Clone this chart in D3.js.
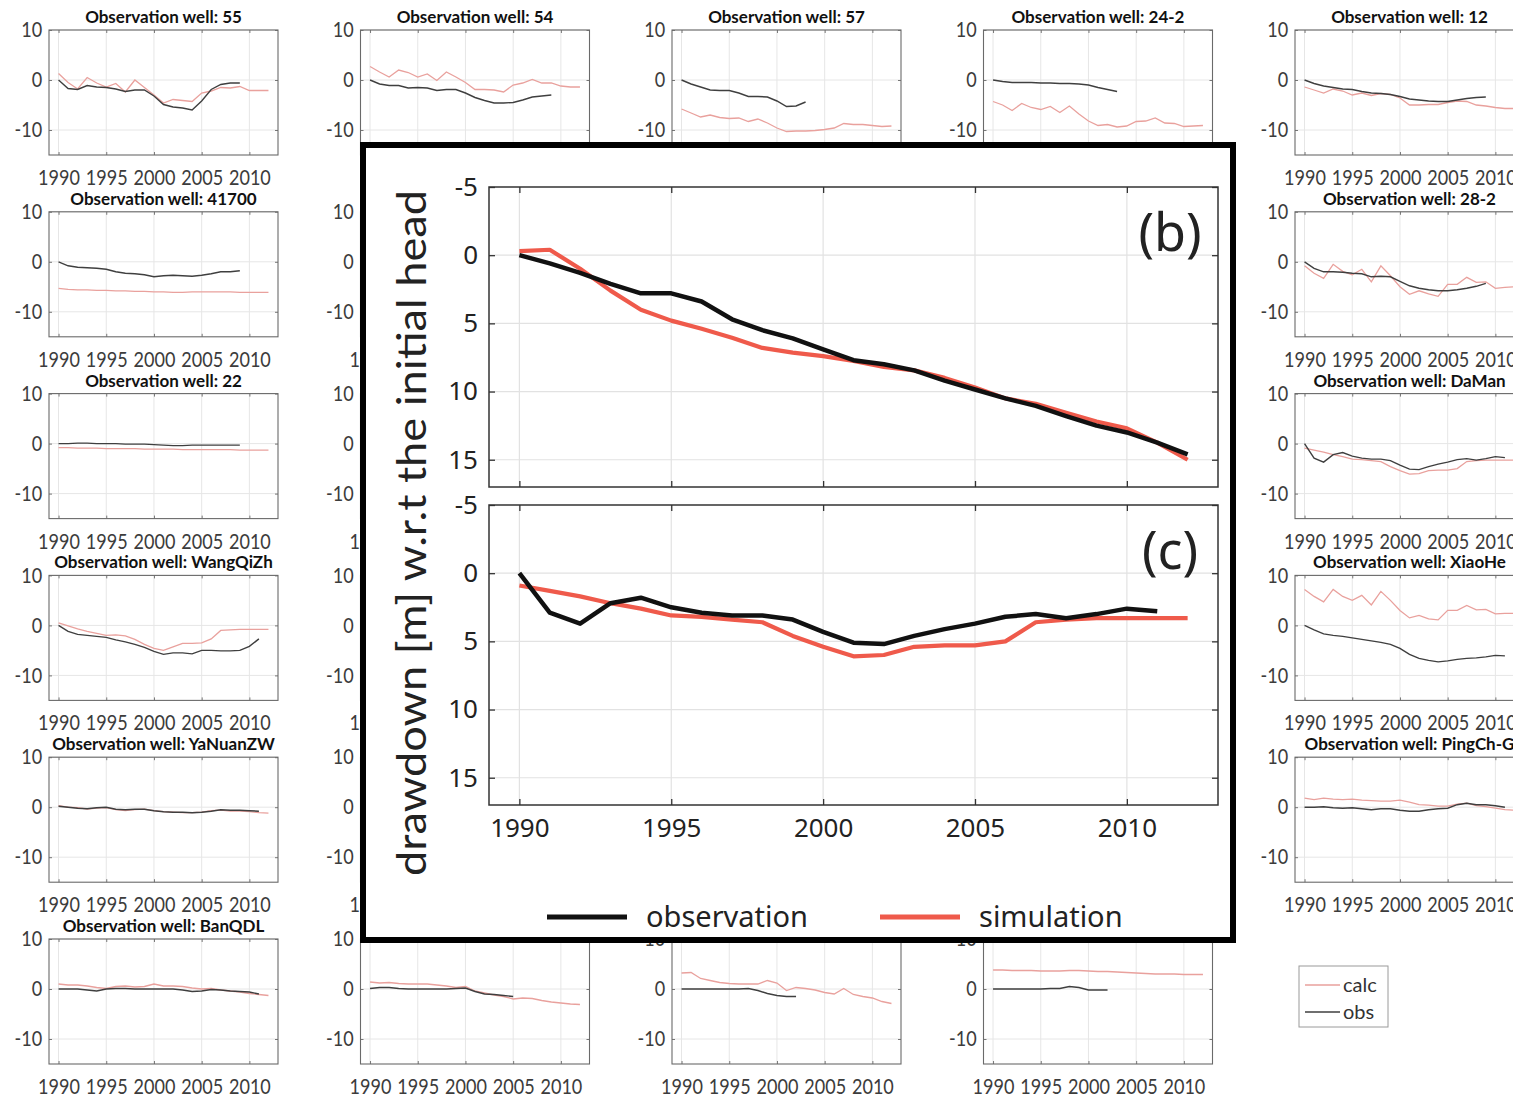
<!DOCTYPE html>
<html><head><meta charset="utf-8">
<script src="https://cdn.jsdelivr.net/npm/d3@7"></script>
<style>body{margin:0;background:#fff} svg{display:block}</style>
</head><body>
<svg id="chart" width="1513" height="1100"></svg>
<script>
// ---------- data ----------
const years = [1990,1991,1992,1993,1994,1995,1996,1997,1998,1999,2000,2001,2002,2003,2004,2005,2006,2007,2008,2009,2010,2011,2012];
const xTicks = [1990,1995,2000,2005,2010];
const yTicksSmall = [-10,0,10];
const yTicksInset = [-5,0,5,10,15];

const obs55 = [0,-1.7,-1.9,-1.1,-1.4,-1.5,-1.8,-2.3,-2.0,-2.0,-3.2,-4.9,-5.4,-5.6,-6.0,-4.2,-1.9,-0.9,-0.6,-0.6];
const calc55 = [1.3,-0.5,-1.8,0.5,-0.6,-1.4,-0.7,-2.4,0.0,-1.5,-3.0,-4.6,-3.9,-4.1,-4.3,-2.6,-2.2,-1.5,-1.6,-1.3,-2.1,-2.1,-2.1];
const obs54 = [0,-0.8,-1.1,-1.1,-1.6,-1.5,-1.6,-2.1,-1.9,-1.9,-2.6,-3.5,-4.1,-4.6,-4.6,-4.5,-4.0,-3.4,-3.2,-3.0];
const calc54 = [2.7,1.6,0.6,2.0,1.5,0.6,1.2,-0.1,1.6,0.6,-0.5,-1.9,-1.9,-2.0,-2.4,-1.0,-0.6,0.1,-0.6,-0.6,-1.2,-1.4,-1.4];
const obs57 = [0,-0.8,-1.4,-2.0,-2.1,-2.1,-2.6,-3.3,-3.3,-3.4,-4.2,-5.3,-5.2,-4.4];
const calc57 = [-5.8,-6.6,-7.4,-7.0,-7.5,-7.7,-7.6,-8.3,-7.8,-8.6,-9.6,-10.3,-10.2,-10.2,-10.1,-9.9,-9.6,-8.7,-8.9,-8.9,-9.1,-9.3,-9.2];
const obs24_2 = [0,-0.3,-0.5,-0.5,-0.5,-0.6,-0.6,-0.7,-0.7,-0.8,-1.0,-1.5,-1.9,-2.3];
const calc24_2 = [-4.3,-5.0,-6.1,-4.7,-5.5,-5.9,-5.3,-6.5,-5.2,-6.8,-8.2,-9.1,-8.9,-9.4,-9.2,-8.3,-8.2,-7.6,-8.6,-8.7,-9.3,-9.2,-9.1];
const obs12 = [0,-0.7,-1.2,-1.5,-1.8,-1.9,-2.3,-2.6,-2.7,-2.9,-3.3,-3.8,-4.0,-4.2,-4.3,-4.3,-4.0,-3.7,-3.5,-3.4];
const calc12 = [-1.4,-2.0,-2.6,-1.8,-2.2,-3.0,-2.6,-3.1,-2.7,-2.9,-3.6,-5.0,-5.0,-4.9,-4.9,-4.5,-4.2,-4.3,-5.0,-5.2,-5.5,-5.7,-5.7];
const obs41700 = [0,-0.8,-1.1,-1.2,-1.3,-1.5,-2.0,-2.3,-2.4,-2.6,-3.0,-2.8,-2.7,-2.8,-2.9,-2.7,-2.4,-2.0,-2.0,-1.8];
const calc41700 = [-5.3,-5.5,-5.6,-5.6,-5.7,-5.7,-5.8,-5.8,-5.9,-5.9,-6.0,-6.0,-6.1,-6.1,-6.0,-6.0,-6.0,-6.0,-6.0,-6.1,-6.1,-6.1,-6.1];
const obs28_2 = [0,-1.3,-2.0,-2.0,-2.1,-2.3,-2.4,-3.0,-2.9,-3.0,-3.9,-4.8,-5.3,-5.6,-5.8,-5.8,-5.6,-5.3,-4.9,-4.3];
const calc28_2 = [-0.8,-2.3,-3.3,-0.5,-1.9,-2.6,-1.5,-4.0,-0.8,-2.8,-5.0,-6.5,-5.8,-6.4,-6.9,-4.5,-4.5,-3.1,-4.1,-4.0,-5.3,-5.1,-5.0];
const obs22 = [0,0,0.1,0.1,0,0,0,-0.1,-0.1,-0.1,-0.2,-0.3,-0.4,-0.4,-0.3,-0.3,-0.3,-0.3,-0.3,-0.3];
const calc22 = [-0.8,-0.8,-0.9,-0.9,-0.9,-1.0,-1.0,-1.0,-1.0,-1.1,-1.1,-1.1,-1.1,-1.2,-1.2,-1.2,-1.2,-1.2,-1.2,-1.3,-1.3,-1.3,-1.3];
const obsDaMan = [0,-2.9,-3.7,-2.2,-1.8,-2.5,-2.9,-3.1,-3.1,-3.4,-4.3,-5.1,-5.2,-4.6,-4.1,-3.7,-3.2,-3.0,-3.3,-3.0,-2.6,-2.8];
const calcDaMan = [-0.9,-1.3,-1.7,-2.2,-2.6,-3.1,-3.2,-3.4,-3.6,-4.6,-5.4,-6.1,-6.0,-5.4,-5.3,-5.3,-5.0,-3.6,-3.4,-3.3,-3.3,-3.3,-3.3];
const obsWangQiZh = [0,-1.2,-1.8,-2.0,-2.2,-2.4,-2.9,-3.3,-3.8,-4.4,-5.2,-5.8,-5.5,-5.5,-5.7,-5.0,-5.0,-5.1,-5.1,-5.0,-4.2,-2.7];
const calcWangQiZh = [0.5,-0.1,-0.7,-1.2,-1.6,-2.0,-1.9,-2.1,-2.8,-3.8,-4.6,-5.0,-4.3,-3.6,-3.6,-3.5,-2.7,-1.0,-0.9,-0.8,-0.8,-0.8,-0.8];
const obsXiaoHe = [0,-0.9,-1.7,-2.0,-2.2,-2.5,-2.8,-3.1,-3.4,-3.8,-4.6,-5.8,-6.6,-7.0,-7.3,-7.1,-6.8,-6.6,-6.5,-6.3,-6.0,-6.1];
const calcXiaoHe = [7.2,5.8,4.7,7.2,5.8,5.0,6.0,4.1,6.8,5.0,3.0,1.5,2.0,1.3,1.1,3.0,3.0,4.0,3.1,3.2,2.3,2.4,2.4];
const obsYaNuanZW = [0.2,0.0,-0.2,-0.3,-0.1,0.0,-0.4,-0.5,-0.4,-0.4,-0.7,-0.9,-1.0,-1.0,-1.1,-1.0,-0.8,-0.5,-0.6,-0.6,-0.7,-0.8];
const calcYaNuanZW = [0.3,0.0,-0.1,-0.4,-0.2,-0.1,-0.5,-0.7,-0.5,-0.4,-0.7,-0.9,-1.0,-1.1,-1.1,-1.0,-0.7,-0.6,-0.8,-0.8,-0.9,-1.1,-1.2];
const obsPingCh = [0,0,0.1,-0.1,-0.2,-0.1,-0.3,-0.5,-0.3,-0.3,-0.6,-0.8,-0.8,-0.5,-0.3,-0.2,0.5,0.8,0.5,0.5,0.3,0.0];
const calcPingCh = [1.8,1.5,1.8,1.6,1.5,1.6,1.4,1.3,1.2,1.2,1.4,1.0,0.5,0.4,0.2,0.2,0.6,0.8,0.3,0.1,-0.2,-0.5,-0.6];
const obsBanQDL = [0,0,0,-0.2,-0.4,0,0.1,0.1,0,0,0,0,0,-0.2,-0.5,-0.4,-0.1,-0.2,-0.4,-0.5,-0.6,-1.0];
const calcBanQDL = [1.0,0.8,0.8,0.6,0.3,0.1,0.5,0.6,0.4,0.5,1.0,0.6,0.6,0.5,0.2,0.0,0.1,-0.2,-0.4,-0.6,-0.9,-1.1,-1.3];
const obsBottom2 = [0.1,0.3,0.3,0.1,0,0,0,0,0,0.1,0.2,-0.5,-1.0,-1.1,-1.3,-1.5];
const calcBottom2 = [1.4,1.2,1.3,1.1,1.0,1.0,1.0,0.8,0.6,0.3,0.5,-0.4,-0.8,-1.2,-1.5,-2.0,-1.8,-1.9,-2.3,-2.6,-2.8,-3.0,-3.1];
const obsBottom3 = [0,0,0,0,0,0,0,0.1,-0.3,-0.9,-1.3,-1.5,-1.5];
const calcBottom3 = [3.2,3.3,2.1,1.7,1.3,1.1,1.0,1.0,1.0,1.7,1.2,-0.3,0.3,0.1,-0.2,-0.7,-1.0,0.1,-1.1,-1.5,-1.8,-2.5,-2.9];
const obsBottom4 = [0,0,0,0,0,0,0.1,0.1,0.5,0.3,-0.2,-0.2,-0.2];
const calcBottom4 = [3.8,3.8,3.7,3.7,3.7,3.6,3.6,3.6,3.7,3.7,3.6,3.5,3.5,3.4,3.3,3.2,3.1,3.0,3.0,3.0,2.9,2.9,2.9];

// inset (b) and (c): drawdown w.r.t. initial head
const insetBObs = [0,0.6,1.3,2.1,2.8,2.8,3.4,4.7,5.5,6.1,6.9,7.7,8.0,8.45,9.2,9.85,10.5,11.05,11.8,12.5,13.0,13.75,14.6];
const insetBSim = [-0.3,-0.4,1.0,2.6,4.0,4.8,5.4,6.05,6.8,7.15,7.4,7.75,8.2,8.45,9.0,9.7,10.5,10.9,11.55,12.2,12.7,13.75,15.0];
const insetCObs = [0,2.9,3.7,2.2,1.8,2.5,2.9,3.1,3.1,3.4,4.3,5.1,5.2,4.6,4.1,3.7,3.2,3.0,3.3,3.0,2.6,2.8];
const insetCSim = [0.9,1.3,1.7,2.2,2.6,3.1,3.2,3.4,3.6,4.6,5.4,6.1,6.0,5.4,5.3,5.3,5.0,3.6,3.4,3.3,3.3,3.3,3.3];

// panels: the ones lying completely under the inset are not drawn
const panels = [
  {r:0,c:0,title:"Observation well: 55",obs:obs55,calc:calc55},
  {r:0,c:1,title:"Observation well: 54",obs:obs54,calc:calc54,xLabels:[]},
  {r:0,c:2,title:"Observation well: 57",obs:obs57,calc:calc57,xLabels:[]},
  {r:0,c:3,title:"Observation well: 24-2",obs:obs24_2,calc:calc24_2,xLabels:[]},
  {r:0,c:4,title:"Observation well: 12",obs:obs12,calc:calc12},
  {r:1,c:0,title:"Observation well: 41700",obs:obs41700,calc:calc41700},
  {r:1,c:1,title:"",obs:[],calc:[],xLabels:[1990]},
  {r:1,c:4,title:"Observation well: 28-2",obs:obs28_2,calc:calc28_2},
  {r:2,c:0,title:"Observation well: 22",obs:obs22,calc:calc22},
  {r:2,c:1,title:"",obs:[],calc:[],xLabels:[1990]},
  {r:2,c:4,title:"Observation well: DaMan",obs:obsDaMan,calc:calcDaMan},
  {r:3,c:0,title:"Observation well: WangQiZh",obs:obsWangQiZh,calc:calcWangQiZh},
  {r:3,c:1,title:"",obs:[],calc:[],xLabels:[1990]},
  {r:3,c:4,title:"Observation well: XiaoHe",obs:obsXiaoHe,calc:calcXiaoHe},
  {r:4,c:0,title:"Observation well: YaNuanZW",obs:obsYaNuanZW,calc:calcYaNuanZW},
  {r:4,c:1,title:"",obs:[],calc:[],xLabels:[1990]},
  {r:4,c:4,title:"Observation well: PingCh-G",obs:obsPingCh,calc:calcPingCh},
  {r:5,c:0,title:"Observation well: BanQDL",obs:obsBanQDL,calc:calcBanQDL},
  {r:5,c:1,title:"",obs:obsBottom2,calc:calcBottom2},
  {r:5,c:2,title:"",obs:obsBottom3,calc:calcBottom3},
  {r:5,c:3,title:"",obs:obsBottom4,calc:calcBottom4}
];

// ---------- layout ----------
const svg = d3.select("#chart");
const PW = 229, PH = 125;
const colX = c => 49 + c*311.5;
const rowY = r => 30 + r*181.8;
const smallFont = "Lato, 'Noto Sans', sans-serif";
const insetFont = "'Noto Sans', 'Open Sans', sans-serif";
const calcColor = "#e9a19d", obsColor = "#3f3f3f";

function smallPanel(p) {
  const g = svg.append("g").attr("transform", `translate(${colX(p.c)},${rowY(p.r)})`);
  const x = d3.scaleLinear().domain([1989, 2013]).range([0, PW]);
  const y = d3.scaleLinear().domain([-15, 10]).range([PH, 0]);
  const labelled = p.xLabels || xTicks;
  g.append("g").selectAll("line").data(xTicks).join("line")
    .attr("x1", d => x(d)).attr("x2", d => x(d)).attr("y1", 0).attr("y2", PH)
    .attr("stroke", "#e6e6e6").attr("stroke-width", 1);
  g.append("g").selectAll("line").data(yTicksSmall).join("line")
    .attr("x1", 0).attr("x2", PW).attr("y1", d => y(d)).attr("y2", d => y(d))
    .attr("stroke", "#e6e6e6").attr("stroke-width", 1);
  const styleAxis = sel => {
    sel.select(".domain").remove();
    sel.selectAll(".tick line").attr("stroke", "#777");
    sel.selectAll(".tick text").attr("fill", "#3c3c3c").style("font-family", smallFont)
      .style("font-size", "21px").attr("transform", "scale(0.86,1)");
  };
  g.append("g").attr("transform", `translate(0,${PH})`)
    .call(d3.axisBottom(x).tickValues(xTicks).tickSize(-3).tickPadding(15)
      .tickFormat(d => labelled.includes(d) ? String(d) : ""))
    .call(styleAxis);
  g.append("g").call(d3.axisTop(x).tickValues(xTicks).tickSize(-3).tickFormat(""))
    .call(styleAxis);
  g.append("g")
    .call(d3.axisLeft(y).tickValues(yTicksSmall).tickSize(-3).tickPadding(8).tickFormat(d => String(d)))
    .call(styleAxis);
  g.append("g").attr("transform", `translate(${PW},0)`)
    .call(d3.axisRight(y).tickValues(yTicksSmall).tickSize(-3).tickFormat(""))
    .call(styleAxis);
  g.append("rect").attr("width", PW).attr("height", PH).attr("fill", "none")
    .attr("stroke", "#6a6a6a").attr("stroke-width", 1.1);
  const line = d3.line().x((d, i) => x(years[i])).y(d => y(d));
  if (p.calc.length) g.append("path").datum(p.calc).attr("d", line).attr("fill", "none")
    .attr("stroke", calcColor).attr("stroke-width", 1.3);
  if (p.obs.length) g.append("path").datum(p.obs).attr("d", line).attr("fill", "none")
    .attr("stroke", obsColor).attr("stroke-width", 1.4);
  if (p.title) g.append("text").attr("x", PW/2).attr("y", -7).attr("text-anchor", "middle")
    .style("font-family", smallFont).style("font-weight", "bold").style("font-size", "17px")
    .attr("fill", "#111").text(p.title);
}
panels.forEach(smallPanel);

// small legend (calc / obs)
const lg = svg.append("g").attr("transform", "translate(1299,966)");
lg.append("rect").attr("width", 89).attr("height", 61).attr("fill", "#fff").attr("stroke", "#9a9a9a");
const legendItems = [{label:"calc", color:calcColor}, {label:"obs", color:obsColor}];
legendItems.forEach((d, i) => {
  lg.append("line").attr("x1", 6).attr("x2", 41).attr("y1", 19 + i*27).attr("y2", 19 + i*27)
    .attr("stroke", d.color).attr("stroke-width", 1.4);
  lg.append("text").attr("x", 44).attr("y", 26 + i*27).style("font-family", smallFont)
    .style("font-size", "20px").attr("fill", "#333").text(d.label);
});

// ---------- inset ----------
svg.append("rect").attr("x", 363).attr("y", 145).attr("width", 870).attr("height", 795)
  .attr("fill", "#fff").attr("stroke", "#000").attr("stroke-width", 6);

const IW = 729, IH = 300;
const ix = d3.scaleLinear().domain([1989, 2013]).range([0, IW]);
const iy = d3.scaleLinear().domain([-5, 17]).range([0, IH]);
const simColor = "#ef5a4b", obsInsetColor = "#111";

function insetPanel(top, obsData, simData, label, showX) {
  const g = svg.append("g").attr("transform", `translate(489,${top})`);
  g.append("g").selectAll("line").data(xTicks).join("line")
    .attr("x1", d => ix(d)).attr("x2", d => ix(d)).attr("y1", 0).attr("y2", IH)
    .attr("stroke", "#e2e2e2").attr("stroke-width", 1.2);
  g.append("g").selectAll("line").data(yTicksInset.slice(1)).join("line")
    .attr("x1", 0).attr("x2", IW).attr("y1", d => iy(d)).attr("y2", d => iy(d))
    .attr("stroke", "#e2e2e2").attr("stroke-width", 1.2);
  const styleAxis = sel => {
    sel.select(".domain").remove();
    sel.selectAll(".tick line").attr("stroke", "#333").attr("stroke-width", 1.3);
    sel.selectAll(".tick text").attr("fill", "#222").style("font-family", insetFont)
      .style("font-size", "26px");
  };
  g.append("g").attr("transform", `translate(0,${IH})`)
    .call(d3.axisBottom(ix).tickValues(xTicks).tickSize(-6).tickPadding(14)
      .tickFormat(d => showX ? String(d) : ""))
    .call(styleAxis);
  g.append("g").call(d3.axisTop(ix).tickValues(xTicks).tickSize(-6).tickFormat("")).call(styleAxis);
  g.append("g").call(d3.axisLeft(iy).tickValues(yTicksInset).tickSize(-6).tickPadding(11)
      .tickFormat(d => String(d))).call(styleAxis);
  g.append("g").attr("transform", `translate(${IW},0)`)
    .call(d3.axisRight(iy).tickValues(yTicksInset).tickSize(-6).tickFormat("")).call(styleAxis);
  g.append("rect").attr("width", IW).attr("height", IH).attr("fill", "none")
    .attr("stroke", "#333").attr("stroke-width", 1.5);
  const line = d3.line().x((d, i) => ix(years[i])).y(d => iy(d));
  g.append("path").datum(simData).attr("d", line).attr("fill", "none")
    .attr("stroke", simColor).attr("stroke-width", 4.2).attr("stroke-linejoin", "round");
  g.append("path").datum(obsData).attr("d", line).attr("fill", "none")
    .attr("stroke", obsInsetColor).attr("stroke-width", 4.5).attr("stroke-linejoin", "round");
  g.append("text").attr("x", IW - 48).attr("y", 64).attr("text-anchor", "middle")
    .style("font-family", insetFont).style("font-size", "52px").attr("fill", "#222").text(label);
}
insetPanel(187, insetBObs, insetBSim, "(b)", false);
insetPanel(505, insetCObs, insetCSim, "(c)", true);

// y-axis title
svg.append("text").attr("transform", "translate(426,533) rotate(-90)").attr("text-anchor", "middle")
  .style("font-family", "Lato, 'Noto Sans', sans-serif").style("font-size", "41px").attr("fill", "#222")
  .attr("textLength", 686).attr("lengthAdjust", "spacingAndGlyphs")
  .text("drawdown [m] w.r.t the initial head");

// inset legend
const insetLegend = [{label:"observation", color:obsInsetColor, x:547}, {label:"simulation", color:simColor, x:880}];
insetLegend.forEach(d => {
  svg.append("line").attr("x1", d.x).attr("x2", d.x + 80).attr("y1", 917).attr("y2", 917)
    .attr("stroke", d.color).attr("stroke-width", 5);
  svg.append("text").attr("x", d.x + 99).attr("y", 927).style("font-family", insetFont)
    .style("font-size", "29px").attr("fill", "#222").text(d.label);
});
</script>
</body></html>
